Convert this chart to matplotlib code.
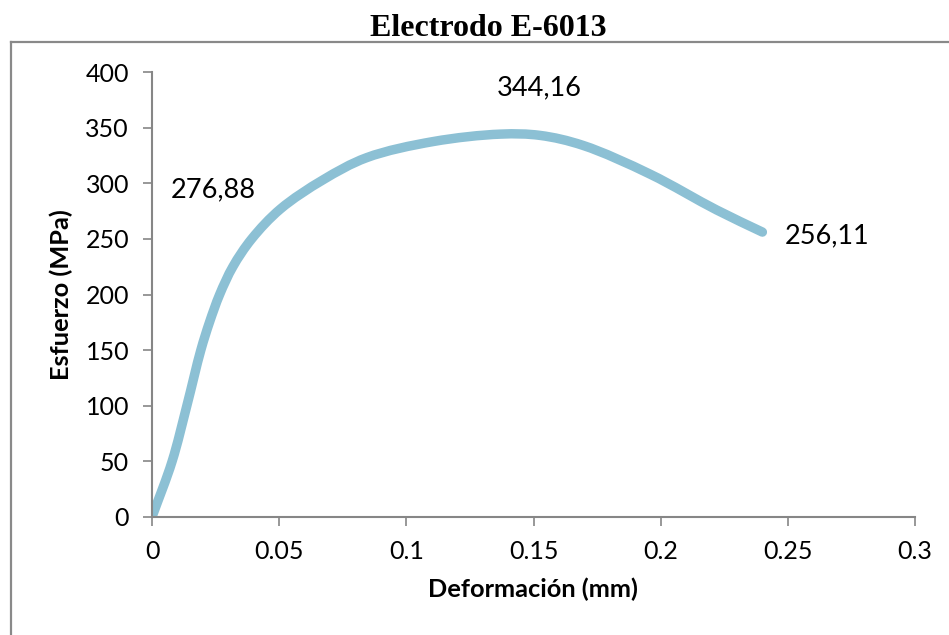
import matplotlib

matplotlib.use("Agg")
import matplotlib.pyplot as plt
import numpy as np
from matplotlib.lines import Line2D
from matplotlib.patches import PathPatch
from matplotlib.path import Path

# Stress-strain curve for the E-6013 electrode
deformacion = [0.0, 0.0079, 0.0137, 0.0192, 0.0226, 0.0266, 0.0318, 0.0392,
               0.0505, 0.0672, 0.0844, 0.1106, 0.137, 0.1526, 0.1695, 0.196,
               0.222, 0.24]
esfuerzo = [0.0, 50, 100, 150, 175, 200, 225, 250,
            276.88, 303, 323, 337.5, 344.16, 343, 334, 308,
            276, 256.11]

# indices of the labelled points: yield, ultimate, rupture
labelled = [8, 12, 17]
label_offsets = [(-67, 19), (39, 46), (65, -4)]

x_ticks = [0, 0.05, 0.1, 0.15, 0.2, 0.25, 0.3]
y_ticks = [0, 50, 100, 150, 200, 250, 300, 350, 400]

X_MAX, Y_MAX = 0.3, 400
AX_W, AX_H = 763, 445  # axes size in pixels

GREY = "#868686"
LINE = "#8cc0d4"


def smooth_path(xs, ys, alpha=0.5):
    """Centripetal Catmull-Rom curve through every point, built as cubic Bezier segments."""
    scale = np.array([AX_W / X_MAX, AX_H / Y_MAX])
    pts = np.column_stack([xs, ys]).astype(float) * scale
    padded = np.vstack([2 * pts[0] - pts[1], pts, 2 * pts[-1] - pts[-2]])
    verts = [pts[0]]
    codes = [Path.MOVETO]
    for i in range(len(pts) - 1):
        p0, p1, p2, p3 = padded[i:i + 4]
        d01 = np.linalg.norm(p1 - p0) ** alpha
        d12 = np.linalg.norm(p2 - p1) ** alpha
        d23 = np.linalg.norm(p3 - p2) ** alpha
        m1 = d12 * ((p1 - p0) / d01 - (p2 - p0) / (d01 + d12) + (p2 - p1) / d12)
        m2 = d12 * ((p2 - p1) / d12 - (p3 - p1) / (d12 + d23) + (p3 - p2) / d23)
        verts += [p1 + m1 / 3, p2 - m2 / 3, p2]
        codes += [Path.CURVE4] * 3
    return Path(np.array(verts) / scale, codes)


plt.rcParams["font.family"] = ["Lato", "DejaVu Sans"]

fig = plt.figure(figsize=(9.49, 6.35), dpi=100)
ax = fig.add_axes([152 / 949, 1 - 517 / 635, AX_W / 949, AX_H / 635])

ax.add_patch(PathPatch(smooth_path(deformacion, esfuerzo), facecolor="none",
                       edgecolor=LINE, linewidth=6.8, capstyle="round", joinstyle="round"))

for idx, (dx, dy) in zip(labelled, label_offsets):
    value = esfuerzo[idx]
    ax.annotate(f"{value:.2f}".replace(".", ","), (deformacion[idx], value),
                xytext=(dx, dy), textcoords="offset pixels",
                ha="center", va="center", fontsize=19.5, color="black")

ax.set_xlim(0, X_MAX)
ax.set_ylim(0, Y_MAX)
ax.set_xticks(x_ticks)
ax.set_xticklabels([f"{t:g}" for t in x_ticks])
ax.set_yticks(y_ticks)
ax.tick_params(axis="both", direction="out", length=6.5, width=1.2,
               color=GREY, labelsize=18, pad=10)

for side in ("top", "right"):
    ax.spines[side].set_visible(False)
for side in ("left", "bottom"):
    ax.spines[side].set_color(GREY)
    ax.spines[side].set_linewidth(1.5)

ax.set_xlabel("Deformación (mm)", fontsize=18.3, fontweight="bold")
ax.xaxis.set_label_coords(0.5, -0.135)
ax.set_ylabel("Esfuerzo (MPa)", fontsize=18.3, fontweight="bold")
ax.yaxis.set_label_coords(-0.103, 0.5)

# chart-area frame, running off the right and bottom edges
fig.add_artist(Line2D([11 / 949, 1.0], [1 - 42 / 635, 1 - 42 / 635],
                      transform=fig.transFigure, color="#898989", linewidth=1.6))
fig.add_artist(Line2D([11 / 949, 11 / 949], [0.0, 1 - 42 / 635],
                      transform=fig.transFigure, color="#898989", linewidth=1.6))

fig.text(488 / 949, 1 - 36 / 635, "Electrodo E-6013", ha="center", va="baseline",
         fontsize=23, fontweight="bold", family=["Liberation Serif", "DejaVu Serif"])

fig.savefig("out.png", dpi=100)
plt.close(fig)
